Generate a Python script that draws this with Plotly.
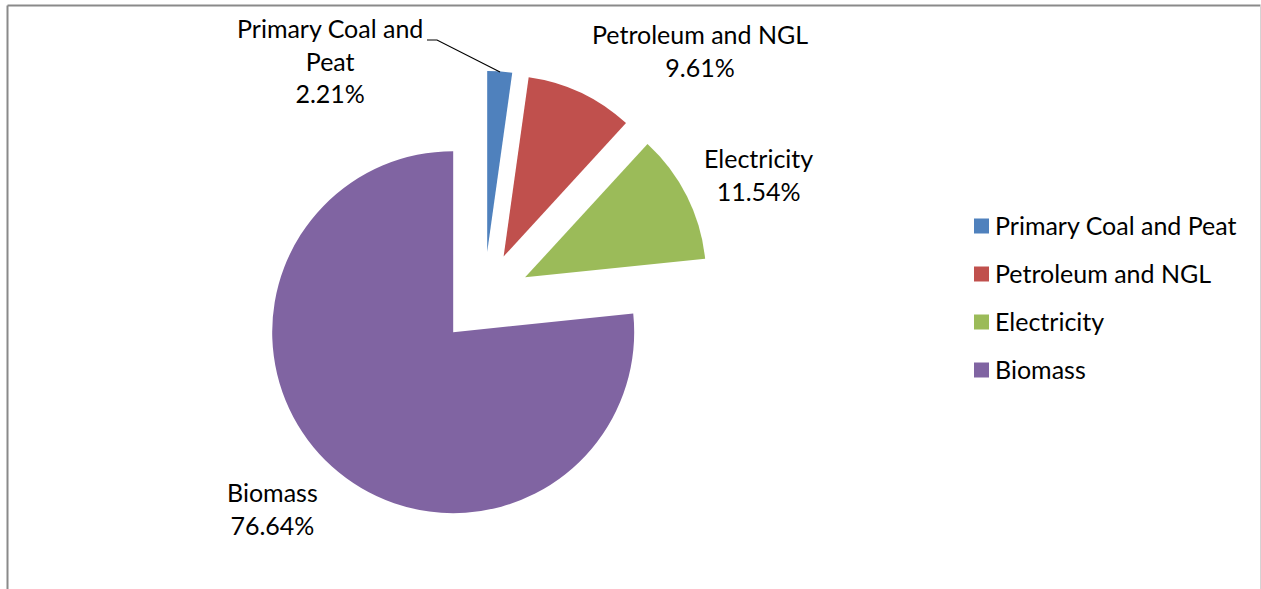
import plotly.graph_objects as go

# ---- data ----
labels = ["Primary Coal and Peat", "Petroleum and NGL", "Electricity", "Biomass"]
shares = [2.21, 9.61, 11.54, 76.64]
label_lines = ["Primary Coal and<br>Peat", "Petroleum and NGL", "Electricity", "Biomass"]
colors = ["#4F81BD", "#C0504D", "#9BBB59", "#8064A2"]

# ---- layout helpers (pixel -> paper) ----
W, H = 1261, 589
FONT = "Lato"
FS = 25


def px(x):
    return x / W


def py(y):
    return 1 - y / H


# pie placement
cx, cy, r = 484, 298, 181
pull = 46 / r
half = r * (1 + pull)

fig = go.Figure(
    go.Pie(
        labels=labels,
        values=shares,
        sort=False,
        direction="clockwise",
        rotation=0,
        pull=[pull] * len(shares),
        marker=dict(colors=colors, line=dict(width=0)),
        textinfo="none",
        hoverinfo="label+percent",
        showlegend=False,
        domain=dict(x=[px(cx - half), px(cx + half)], y=[py(cy + half), py(cy - half)]),
    )
)

# data label positions (pixel centres)
label_pos = [(330, 61), (700, 50), (758, 174), (272, 508)]
annotations = []
for text, share, (lx, ly) in zip(label_lines, shares, label_pos):
    annotations.append(
        dict(
            text=f"{text}<br>{share:.2f}%",
            x=px(lx), y=py(ly), xref="paper", yref="paper",
            xanchor="center", yanchor="middle", align="center",
            showarrow=False, font=dict(family=FONT, size=FS, color="#000000"),
        )
    )

shapes = []
# leader line for the small slice
shapes.append(
    dict(
        type="path", xref="paper", yref="paper",
        path=f"M {px(427)} {py(40)} L {px(437)} {py(40)} L {px(500)} {py(72)}",
        line=dict(color="#000000", width=1.2),
    )
)

# legend
leg_y = [226, 274, 322, 370]
for lab, col, ly in zip(labels, colors, leg_y):
    shapes.append(
        dict(
            type="rect", xref="paper", yref="paper",
            x0=px(974), x1=px(989), y0=py(ly + 7.5), y1=py(ly - 7.5),
            fillcolor=col, line=dict(width=0),
        )
    )
    annotations.append(
        dict(
            text=lab, x=px(993), y=py(ly - 1.5), xref="paper", yref="paper",
            xanchor="left", yanchor="middle", showarrow=False,
            font=dict(family=FONT, size=FS, color="#000000"),
        )
    )

# chart border
shapes += [
    dict(type="line", xref="paper", yref="paper", x0=px(7.5), x1=px(7.5), y0=py(5.5), y1=py(600),
         line=dict(color="#8A8A8A", width=2)),
    dict(type="line", xref="paper", yref="paper", x0=px(7.5), x1=px(1260.5), y0=py(5.5), y1=py(5.5),
         line=dict(color="#8A8A8A", width=2)),
    dict(type="line", xref="paper", yref="paper", x0=px(1260.5), x1=px(1260.5), y0=py(5.5), y1=py(600),
         line=dict(color="#D4D4D4", width=1)),
]

fig.update_layout(
    width=W, height=H,
    margin=dict(l=0, r=0, t=0, b=0),
    paper_bgcolor="#FFFFFF",
    plot_bgcolor="#FFFFFF",
    showlegend=False,
    annotations=annotations,
    shapes=shapes,
    font=dict(family=FONT, size=FS, color="#000000"),
)

fig.write_html(
    "out.html",
    config={"displayModeBar": False},
    post_script="document.body.style.margin='0';document.body.style.overflow='hidden';",
)
